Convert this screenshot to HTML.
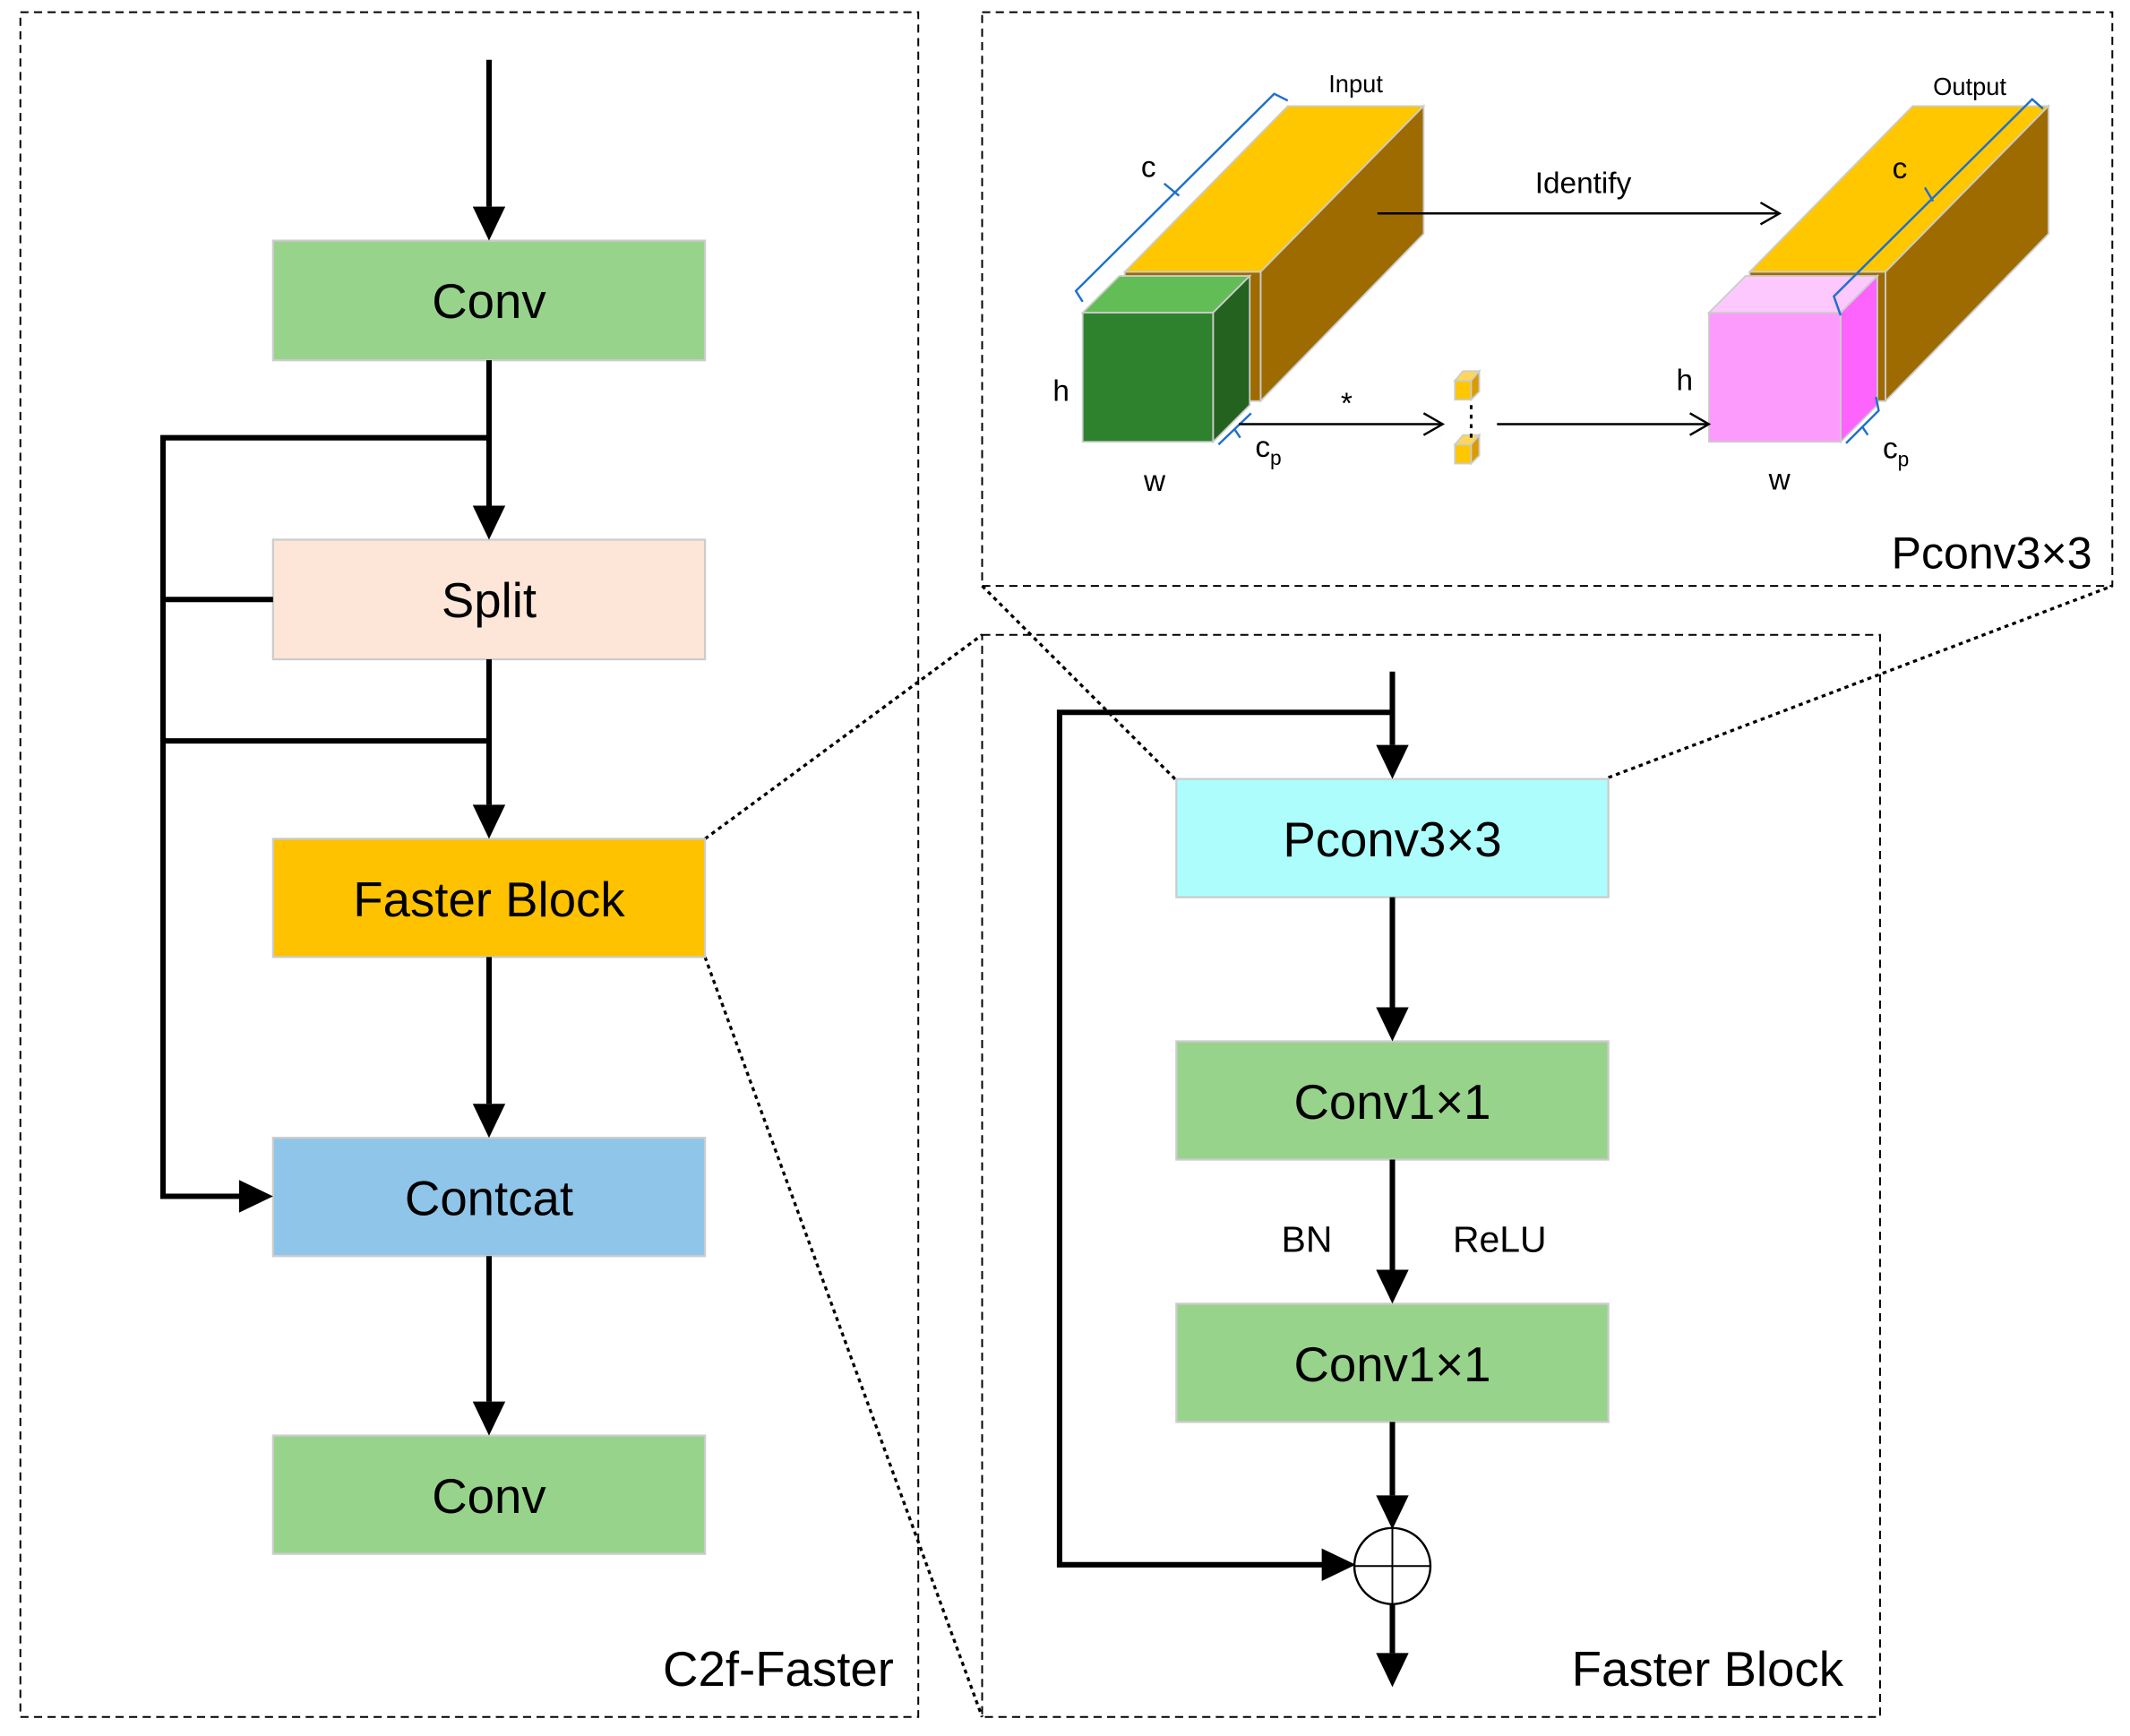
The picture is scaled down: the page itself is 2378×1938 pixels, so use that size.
<!DOCTYPE html>
<html><head><meta charset="utf-8"><style>html,body{margin:0;padding:0;background:#fff}svg{display:block}text{font-family:"Liberation Sans",sans-serif}</style></head>
<body>
<svg width="2378" height="1938" viewBox="0 0 1568 1277" preserveAspectRatio="none" xmlns="http://www.w3.org/2000/svg">
<defs>
<marker id="a" viewBox="0 0 10 10" refX="10" refY="5" markerWidth="7" markerHeight="7" markerUnits="userSpaceOnUse" orient="auto"><path d="M0,0L10,5L0,10z"/></marker>
</defs>
<rect x="0" y="0" width="1568" height="1277" fill="#fff"/>
<!-- dashed frames -->
<g fill="none" stroke="#000" stroke-width="1.3" stroke-dasharray="6,4">
<rect x="15" y="9" width="661" height="1254"/>
<rect x="723" y="9" width="832" height="422"/>
<rect x="723" y="467" width="661" height="796"/>
</g>
<g fill="none" stroke="#000" stroke-width="2.2" stroke-dasharray="3,3">
<line x1="519" y1="617" x2="723" y2="467"/>
<line x1="519" y1="704" x2="723" y2="1263"/>
<line x1="723" y1="431" x2="866" y2="574"/>
<line x1="1184" y1="572" x2="1555" y2="431"/>
</g>
<!-- left -->
<g stroke="#ccc" stroke-width="1.5">
<rect x="201" y="177" width="318" height="88" fill="#97d38b"/>
<rect x="201" y="397" width="318" height="88" fill="#fde6d8"/>
<rect x="201" y="617" width="318" height="87" fill="#fec200"/>
<rect x="201" y="837" width="318" height="87" fill="#8fc5e8"/>
<rect x="201" y="1056" width="318" height="87" fill="#97d38b"/>
</g>
<g font-size="36" text-anchor="middle" fill="#000">
<text x="360" y="234">Conv</text>
<text x="360" y="454">Split</text>
<text x="360" y="674">Faster Block</text>
<text x="360" y="894">Contcat</text>
<text x="360" y="1113">Conv</text>
</g>
<g stroke="#000" stroke-width="4" fill="none">
<line x1="360" y1="44" x2="360" y2="152"/>
<line x1="360" y1="265" x2="360" y2="372"/>
<line x1="360" y1="485" x2="360" y2="592"/>
<line x1="360" y1="704" x2="360" y2="812"/>
<line x1="360" y1="924" x2="360" y2="1031"/>
<polyline points="360,322 120,322 120,880 178,880"/>
<line x1="120" y1="441" x2="201" y2="441"/>
<line x1="120" y1="545" x2="360" y2="545"/>
</g>
<g fill="#000">
<path d="M348,152h24l-12,25z"/><path d="M348,372h24l-12,25z"/><path d="M348,592h24l-12,25z"/><path d="M348,812h24l-12,25z"/><path d="M348,1031h24l-12,25z"/>
<path d="M176,868v24l25,-12z"/>
</g>
<text x="658" y="1240" font-size="36" text-anchor="end">C2f-Faster</text>
<!-- right faster block -->
<g stroke="#ccc" stroke-width="1.5">
<rect x="866" y="573" width="318" height="87" fill="#adfdfd"/>
<rect x="866" y="766" width="318" height="87" fill="#97d38b"/>
<rect x="866" y="959" width="318" height="87" fill="#97d38b"/>
</g>
<g font-size="36" text-anchor="middle">
<text x="1025" y="630">Pconv3×3</text>
<text x="1025" y="823">Conv1×1</text>
<text x="1025" y="1016">Conv1×1</text>
</g>
<text x="962" y="921" font-size="27" text-anchor="middle">BN</text>
<text x="1104" y="921" font-size="27" text-anchor="middle">ReLU</text>
<g stroke="#000" stroke-width="4" fill="none">
<line x1="1025" y1="494" x2="1025" y2="548"/>
<polyline points="1025,524 780,524 780,1151 975,1151"/>
<line x1="1025" y1="660" x2="1025" y2="741"/>
<line x1="1025" y1="853" x2="1025" y2="934"/>
<line x1="1025" y1="1046" x2="1025" y2="1100"/>
<line x1="1025" y1="1180" x2="1025" y2="1216"/>
</g>
<g fill="#000">
<path d="M1013,548h24l-12,25z"/><path d="M1013,741h24l-12,25z"/><path d="M1013,934h24l-12,25z"/><path d="M1013,1100h24l-12,25z"/><path d="M1013,1216h24l-12,25z"/>
<path d="M973,1139v24l25,-12z"/>
</g>
<circle cx="1025" cy="1152" r="28" fill="#fff" stroke="#000" stroke-width="1.6"/>
<line x1="997" y1="1152" x2="1053" y2="1152" stroke="#000" stroke-width="1.3"/>
<line x1="1025" y1="1124" x2="1025" y2="1180" stroke="#000" stroke-width="1.3"/>
<text x="1357" y="1240" font-size="36" text-anchor="end">Faster Block</text>
<!-- Pconv diagram -->
<g stroke="#ccc" stroke-width="1.2">
<polygon points="828,200 928,200 1048,78 948,78" fill="#fec700"/>
<polygon points="928,200 1048,78 1048,172 928,295" fill="#9e6b00"/>
<rect x="828" y="200" width="100" height="95" fill="#9e6b00"/>
<polygon points="797,230 893,230 920,203 824,203" fill="#63bd57"/>
<polygon points="893,230 920,203 920,298 893,325" fill="#246220"/>
<rect x="797" y="230" width="96" height="95" fill="#2e822e"/>
<polygon points="1288,200 1388,200 1508,78 1408,78" fill="#fec700"/>
<polygon points="1388,200 1508,78 1508,172 1388,295" fill="#9e6b00"/>
<rect x="1288" y="200" width="100" height="95" fill="#9e6b00"/>
<polygon points="1258,230 1355,230 1382,203 1285,203" fill="#fdc8fd"/>
<polygon points="1355,230 1382,203 1382,298 1355,325" fill="#fd63fd"/>
<rect x="1258" y="230" width="97" height="95" fill="#fd9bfd"/>
<polygon points="1071,280 1083,280 1089,273 1077,273" fill="#fed75a"/>
<rect x="1071" y="280" width="12" height="14" fill="#fec700"/>
<polygon points="1083,280 1089,273 1089,288 1083,294" fill="#d99b00"/>
<polygon points="1071,327 1083,327 1089,320 1077,320" fill="#fed75a"/>
<rect x="1071" y="327" width="12" height="14" fill="#fec700"/>
<polygon points="1083,327 1089,320 1089,335 1083,341" fill="#d99b00"/>
</g>
<g stroke="#1f6fcc" stroke-width="1.6" fill="none">
<path d="M797,222 L792,214 L938,69 L948,74 M868,144 L857,135"/>
<path d="M897,327 L921,304 M909,316 L913,322"/>
<path d="M1355,232 L1350,218 L1496,73 L1504,80 M1423,148 L1417,138"/>
<path d="M1359,326 L1383,302 L1381,292 M1371,314 L1375,320"/>
</g>
<line x1="1083" y1="298" x2="1083" y2="322" stroke="#000" stroke-width="2" stroke-dasharray="3,4"/>
<g stroke="#000" stroke-width="1.6" fill="none">
<line x1="1014" y1="157" x2="1310" y2="157"/><polyline points="1296,149 1310,157 1296,165"/>
<line x1="912" y1="312" x2="1062" y2="312"/><polyline points="1048,304 1062,312 1048,320"/>
<line x1="1102" y1="312" x2="1258" y2="312"/><polyline points="1244,304 1258,312 1244,320"/>
</g>
<g font-size="18">
<text x="978" y="68">Input</text>
<text x="1423" y="70">Output</text>
</g>
<g font-size="22">
<text x="840" y="130">c</text>
<text x="1393" y="131">c</text>
<text x="1130" y="142">Identify</text>
<text x="987" y="304">*</text>
<text x="775" y="295">h</text>
<text x="1234" y="287">h</text>
<text x="842" y="361">w</text>
<text x="1302" y="360">w</text>
<text x="924" y="336">c<tspan font-size="15" dy="6">p</tspan></text>
<text x="1386" y="337">c<tspan font-size="15" dy="6">p</tspan></text>
</g>
<text x="1540" y="418" font-size="33" text-anchor="end">Pconv3×3</text>
</svg>
</body></html>
